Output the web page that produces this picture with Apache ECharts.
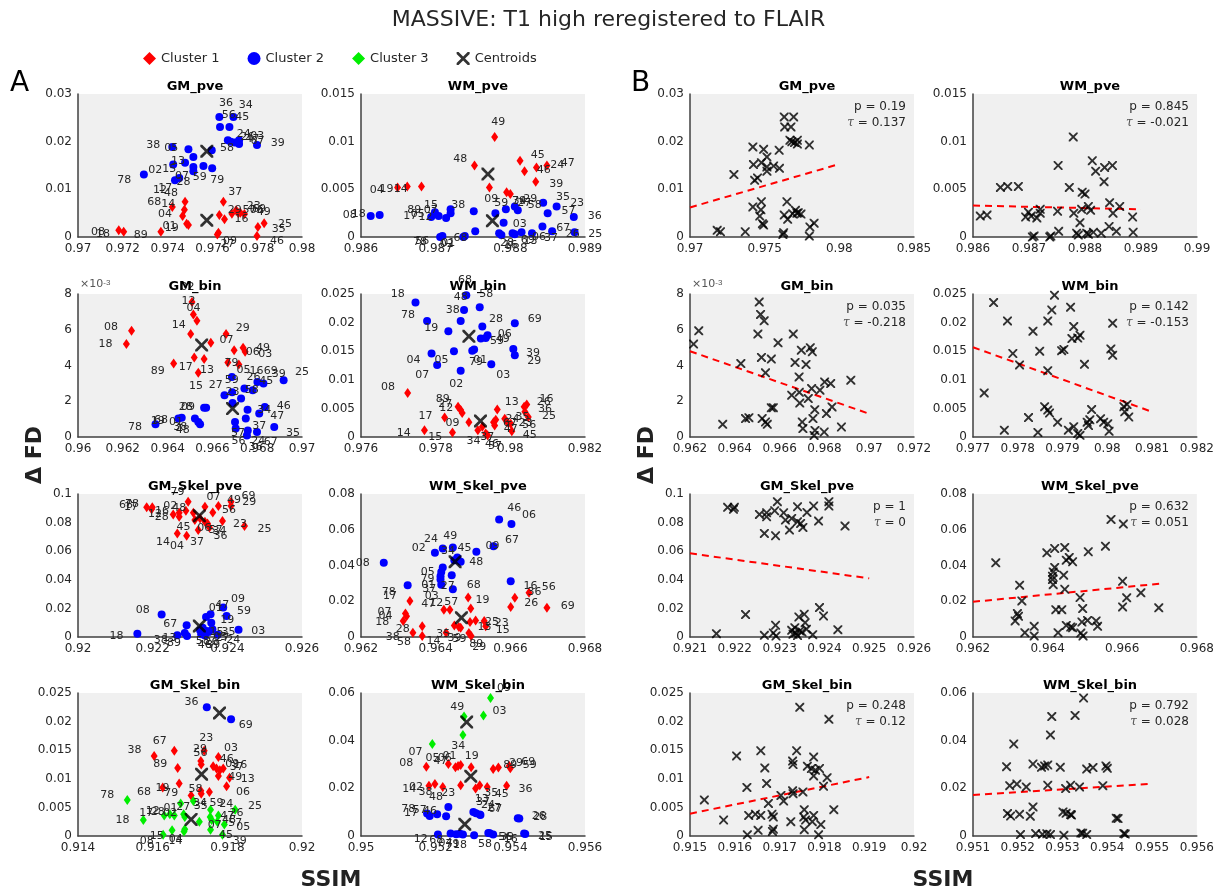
<!DOCTYPE html>
<html><head><meta charset="utf-8">
<script src="https://cdn.jsdelivr.net/npm/echarts/dist/echarts.min.js"></script>
<style>html,body{margin:0;padding:0;background:#fff}#c{width:1217px;height:892px}</style>
</head><body><div id="c"></div>
<script>
// ---------------- DATA: [subject, SSIM, dFD, cluster] ----------------
const GM_pve = [
 ["36",0.97631,0.0252,2],["34",0.97694,0.0252,2],["56",0.97634,0.0231,2],["45",0.97676,0.0231,2],
 ["38",0.97421,0.0189,2],["05",0.97493,0.0184,2],["58",0.97597,0.0182,2],["24",0.97669,0.0203,2],
 ["26",0.97682,0.0200,2],["03",0.97719,0.0203,2],["67",0.97719,0.0195,2],["47",0.97700,0.0198,2],
 ["39",0.97799,0.0193,2],["02",0.97425,0.0152,2],["15",0.97478,0.0156,2],["13",0.97515,0.0168,2],
 ["07",0.97515,0.0147,2],["28",0.97515,0.0138,2],["59",0.97560,0.0149,2],["79",0.97599,0.0144,2],
 ["78",0.97294,0.0131,2],["12",0.97433,0.0119,2],["17",0.97452,0.0124,2],
 ["08",0.97182,0.0014,1],["18",0.97204,0.0011,1],["89",0.97370,0.0011,1],["68",0.97421,0.0063,1],
 ["04",0.97467,0.0044,1],["14",0.97475,0.0057,1],["48",0.97478,0.0074,1],["01",0.97485,0.0028,1],
 ["19",0.97493,0.0025,1],["27",0.97622,0.0005,1],["09",0.97627,0.0009,1],["29",0.97631,0.0046,1],
 ["16",0.97654,0.0037,1],["37",0.97649,0.0074,1],["57",0.97687,0.0049,1],["23",0.97706,0.0056,1],
 ["06",0.97716,0.0050,1],["69",0.97725,0.0051,1],["49",0.97743,0.0048,1],["46",0.97799,0.0002,1],
 ["35",0.97803,0.0021,1],["25",0.97831,0.0029,1]
];
const WM_pve = [
 ["49",0.98779,0.0105,1],["45",0.98813,0.0080,1],["24",0.98835,0.0073,1],["47",0.98849,0.0075,1],
 ["48",0.98752,0.0075,1],["46",0.98819,0.0069,1],["39",0.98834,0.0058,1],["09",0.98772,0.0052,1],
 ["34",0.98795,0.0047,1],["27",0.98800,0.0045,1],["04",0.98649,0.0052,1],["19",0.98662,0.0053,1],
 ["14",0.98681,0.0053,1],
 ["08",0.98613,0.0022,2],["18",0.98625,0.0023,2],["17",0.98694,0.0021,2],["89",0.98699,0.0026,2],
 ["05",0.98704,0.0022,2],["12",0.98714,0.0020,2],["15",0.98720,0.0029,2],["07",0.98720,0.0025,2],
 ["78",0.98706,0.0000,2],["56",0.98709,0.0001,2],["02",0.98737,0.0000,2],["01",0.98739,0.0001,2],
 ["38",0.98751,0.0027,2],["68",0.98753,0.0006,2],["59",0.98780,0.0025,2],["79",0.98794,0.0029,2],
 ["03",0.98791,0.0015,2],["28",0.98785,0.0004,2],["16",0.98788,0.0002,2],["29",0.98806,0.0032,2],
 ["58",0.98810,0.0028,2],["69",0.98803,0.0004,2],["13",0.98806,0.0003,2],["06",0.98815,0.0005,2],
 ["37",0.98829,0.0004,2],["35",0.98844,0.0036,2],["67",0.98843,0.0011,2],["23",0.98862,0.0032,2],
 ["26",0.98856,0.0006,2],["57",0.98850,0.0025,2],["36",0.98885,0.0021,2],["25",0.98886,0.0005,2]
];
const GM_bin = [
 ["02",0.96509,0.00755,1],["12",0.96515,0.00686,1],["04",0.96531,0.00650,1],["14",0.96503,0.00576,1],
 ["08",0.96239,0.00594,1],["18",0.96216,0.00520,1],["07",0.96593,0.00527,1],["29",0.96661,0.00576,1],
 ["06",0.96697,0.00486,1],["49",0.96737,0.00500,1],["03",0.96746,0.00477,1],["17",0.96519,0.00445,1],
 ["13",0.96563,0.00436,1],["89",0.96427,0.00411,1],["16",0.96718,0.00406,1],["15",0.96537,0.00359,1],
 ["05",0.96669,0.00417,1],
 ["79",0.96687,0.00336,2],["26",0.96743,0.00271,2],["45",0.96780,0.00262,2],["69",0.96801,0.00308,2],
 ["39",0.96828,0.00299,2],["25",0.96918,0.00318,2],["27",0.96654,0.00234,2],["59",0.96688,0.00250,2],
 ["58",0.96728,0.00215,2],["34",0.96757,0.00153,2],["46",0.96834,0.00168,2],["28",0.96563,0.00163,2],
 ["09",0.96572,0.00164,2],["19",0.96448,0.00103,2],["68",0.96463,0.00108,2],["01",0.96522,0.00103,2],
 ["38",0.96537,0.00084,2],["48",0.96545,0.00071,2],["78",0.96346,0.00071,2],["57",0.96701,0.00084,2],
 ["56",0.96704,0.00047,2],["37",0.96749,0.00103,2],["47",0.96809,0.00131,2],["35",0.96876,0.00056,2],
 ["24",0.96758,0.00037,2],["36",0.96754,0.00009,2],["67",0.96799,0.00028,2],["23",0.96690,0.00190,2]
];
const WM_bin = [
 ["68",0.97882,0.0248,2],["18",0.97746,0.0235,2],["48",0.97876,0.0222,2],["58",0.97918,0.0227,2],
 ["78",0.97777,0.0203,2],["38",0.97867,0.0203,2],["69",0.98012,0.0199,2],["28",0.97925,0.0193,2],
 ["19",0.97834,0.0185,2],["59",0.97921,0.0172,2],["49",0.97934,0.0173,2],["06",0.97939,0.0178,2],
 ["39",0.98008,0.0154,2],["29",0.98012,0.0143,2],["05",0.97849,0.0150,2],["01",0.97903,0.0153,2],
 ["79",0.97898,0.0151,2],["04",0.97789,0.0146,2],["07",0.97804,0.0126,2],["03",0.97949,0.0127,2],
 ["02",0.97867,0.0116,2],
 ["08",0.97725,0.0077,1],["89",0.97860,0.0053,1],["27",0.97867,0.0047,1],["12",0.97871,0.0042,1],
 ["17",0.97824,0.0034,1],["14",0.97770,0.0012,1],["15",0.97845,0.0008,1],["09",0.97889,0.0026,1],
 ["34",0.97913,0.0012,1],["37",0.97925,0.0018,1],["46",0.97934,0.0006,1],["57",0.97939,0.0003,1],
 ["13",0.97965,0.0048,1],["67",0.97955,0.0026,1],["24",0.97961,0.0030,1],["35",0.97985,0.0032,1],
 ["23",0.97992,0.0026,1],["56",0.98001,0.0023,1],["45",0.98004,0.0010,1],["26",0.98037,0.0053,1],
 ["16",0.98044,0.0057,1],["36",0.98039,0.0044,1],["25",0.98048,0.0035,1],["47",0.97958,0.0020,1]
];
const GM_Skel_pve = [
 ["68",0.92184,0.0907,1],["17",0.92197,0.0893,1],["78",0.92199,0.0907,1],["12",0.92255,0.0857,1],
 ["16",0.92271,0.0869,1],["28",0.92271,0.0841,1],["79",0.92295,0.0946,1],["02",0.92289,0.0883,1],
 ["48",0.92309,0.0869,1],["07",0.92340,0.0911,1],["49",0.92376,0.0916,1],["69",0.92410,0.0946,1],
 ["29",0.92410,0.0916,1],["56",0.92361,0.0871,1],["23",0.92387,0.0811,1],["45",0.92313,0.0818,1],
 ["06",0.92327,0.0829,1],["57",0.92340,0.0806,1],["34",0.92347,0.0794,1],["25",0.92446,0.0776,1],
 ["14",0.92266,0.0724,1],["04",0.92291,0.0708,1],["37",0.92322,0.0748,1],["36",0.92352,0.0766,1],
 ["08",0.92224,0.0157,2],["18",0.92159,0.0023,2],["09",0.92389,0.0206,2],["47",0.92355,0.0159,2],
 ["01",0.92343,0.0140,2],["59",0.92398,0.0147,2],["67",0.92291,0.0082,2],["19",0.92357,0.0100,2],
 ["03",0.92430,0.0051,2],["24",0.92374,0.0016,2],["38",0.92266,0.0012,2],["13",0.92286,0.0028,2],
 ["89",0.92292,0.0007,2],["58",0.92327,0.0047,2],["15",0.92334,0.0065,2],["05",0.92345,0.0042,2],
 ["26",0.92336,0.0028,2],["27",0.92350,0.0035,2],["35",0.92360,0.0055,2],["46",0.92330,0.0020,2],
 ["39",0.92340,0.0010,2]
];
const WM_Skel_pve = [
 ["46",0.96570,0.0658,2],["06",0.96603,0.0632,2],["67",0.96555,0.0508,2],["09",0.96509,0.0477,2],
 ["02",0.96398,0.0471,2],["24",0.96419,0.0495,2],["49",0.96446,0.0501,2],["45",0.96458,0.0445,2],
 ["48",0.96467,0.0421,2],["34",0.96450,0.0430,2],["08",0.96261,0.0415,2],["05",0.96419,0.0389,2],
 ["79",0.96415,0.0364,2],["01",0.96413,0.0340,2],["37",0.96413,0.0321,2],["03",0.96415,0.0293,2],
 ["27",0.96443,0.0346,2],["78",0.96325,0.0290,2],["57",0.96446,0.0267,2],["16",0.96601,0.0312,2],
 ["17",0.96331,0.0202,1],["07",0.96319,0.0131,1],["04",0.96322,0.0116,1],["18",0.96313,0.0090,1],
 ["38",0.96339,0.0024,1],["28",0.96364,0.0060,1],["58",0.96364,0.0006,1],["14",0.96428,0.0024,1],
 ["47",0.96422,0.0153,1],["12",0.96438,0.0153,1],["35",0.96450,0.0065,1],["39",0.96462,0.0056,1],
 ["59",0.96467,0.0052,1],["68",0.96487,0.0221,1],["19",0.96494,0.0159,1],["13",0.96492,0.0084,1],
 ["89",0.96489,0.0022,1],["29",0.96495,0.0006,1],["25",0.96507,0.0093,1],["23",0.96530,0.0090,1],
 ["15",0.96534,0.0060,1],["26",0.96601,0.0168,1],["36",0.96612,0.0219,1],["56",0.96650,0.0247,1],
 ["69",0.96698,0.0163,1]
];
const GM_Skel_bin = [
 ["36",0.91745,0.0225,2],["69",0.91810,0.0204,2],
 ["38",0.91604,0.0140,1],["67",0.91658,0.0149,1],["23",0.91738,0.0149,1],["89",0.91667,0.0119,1],
 ["29",0.91729,0.0131,1],["56",0.91730,0.0125,1],["03",0.91776,0.0138,1],["46",0.91762,0.0122,1],
 ["09",0.91771,0.0118,1],["37",0.91780,0.0115,1],["16",0.91789,0.0118,1],["49",0.91776,0.0105,1],
 ["13",0.91806,0.0102,1],["68",0.91627,0.0085,1],["19",0.91671,0.0092,1],["27",0.91703,0.0071,1],
 ["34",0.91729,0.0079,1],["35",0.91730,0.0074,1],["59",0.91752,0.0077,1],["06",0.91798,0.0087,1],
 ["78",0.91532,0.0063,3],["79",0.91675,0.0057,3],["58",0.91709,0.0061,3],["18",0.91575,0.0028,3],
 ["17",0.91631,0.0036,3],["12",0.91646,0.0038,3],["28",0.91658,0.0036,3],["08",0.91628,0.0002,3],
 ["15",0.91652,0.0010,3],["14",0.91684,0.0008,3],["04",0.91686,0.0012,3],["01",0.91683,0.0038,3],
 ["02",0.91686,0.0033,3],["07",0.91725,0.0025,3],["24",0.91755,0.0046,3],["47",0.91754,0.0033,3],
 ["48",0.91758,0.0028,3],["26",0.91776,0.0036,3],["57",0.91773,0.0025,3],["45",0.91755,0.0011,3],
 ["25",0.91821,0.0046,3],["05",0.91792,0.0020,3],["39",0.91787,0.0002,3]
];
const WM_Skel_bin = [
 ["09",0.95347,0.0579,3],["03",0.95328,0.0506,3],["49",0.95276,0.0501,3],["34",0.95273,0.0424,3],
 ["07",0.95191,0.0386,3],
 ["08",0.95175,0.0291,1],["05",0.95234,0.0302,1],["47",0.95253,0.0288,1],["06",0.95260,0.0294,1],
 ["01",0.95267,0.0298,1],["19",0.95295,0.0288,1],["89",0.95354,0.0281,1],["29",0.95368,0.0287,1],
 ["69",0.95397,0.0294,1],["59",0.95400,0.0284,1],["14",0.95182,0.0211,1],["02",0.95198,0.0218,1],
 ["38",0.95219,0.0206,1],["23",0.95267,0.0213,1],["13",0.95307,0.0199,1],["35",0.95318,0.0213,1],
 ["45",0.95338,0.0206,1],["36",0.95390,0.0211,1],
 ["78",0.95177,0.0094,2],["17",0.95184,0.0084,2],["57",0.95204,0.0091,2],["48",0.95234,0.0122,2],
 ["46",0.95228,0.0083,2],["37",0.95301,0.0101,2],["27",0.95318,0.0090,2],["28",0.95424,0.0073,2],
 ["24",0.95308,0.0095,2],["67",0.95320,0.0088,2],["26",0.95420,0.0075,2],
 ["12",0.95206,0.0006,2],["68",0.95240,0.0010,2],["04",0.95255,0.0007,2],["18",0.95273,0.0006,2],
 ["79",0.95265,0.0009,2],["56",0.95341,0.0013,2],["16",0.95354,0.0006,2],["39",0.95345,0.0012,2],
 ["25",0.95437,0.0010,2],["15",0.95440,0.0008,2],["58",0.95303,0.0003,2]
];
// centroids per cluster (1,2,3): [SSIM, dFD]
const GM_pve_centroids = [[0.97575,0.0035],[0.97575,0.0180]];
const WM_pve_centroids = [[0.98770,0.0066],[0.98776,0.0017]];
const GM_bin_centroids = [[0.96552,0.00514],[0.96690,0.00159]];
const WM_bin_centroids = [[0.97920,0.0028],[0.97889,0.0176]];
const GM_Skel_pve_centroids = [[0.92325,0.0848],[0.92325,0.0077]];
const WM_Skel_pve_centroids = [[0.96469,0.0108],[0.96452,0.0421]];
const GM_Skel_bin_centroids = [[0.91731,0.0108],[0.91779,0.0215],[0.91703,0.0029]];
const WM_Skel_bin_centroids = [[0.95294,0.0251],[0.95278,0.0049],[0.95283,0.0478]];

const plotTitles = ['GM_pve','WM_pve','GM_bin','WM_bin','GM_Skel_pve','WM_Skel_pve','GM_Skel_bin','WM_Skel_bin'];
// axis ticks [min, max, interval]
const xTicksA = [[0.97,0.98,0.002],[0.986,0.989,0.001],[0.96,0.97,0.002],[0.976,0.982,0.002],[0.92,0.926,0.002],[0.962,0.968,0.002],[0.914,0.92,0.002],[0.95,0.956,0.002]];
const xTicksB = [[0.97,0.985,0.005],[0.986,0.99,0.001],[0.962,0.972,0.002],[0.977,0.982,0.001],[0.921,0.926,0.001],[0.962,0.968,0.002],[0.915,0.92,0.001],[0.951,0.956,0.001]];
const yTicks = [[0,0.03,0.01],[0,0.015,0.005],[0,0.008,0.002],[0,0.025,0.005],[0,0.1,0.02],[0,0.08,0.02],[0,0.025,0.005],[0,0.06,0.02]];
const pValues = ['0.19','0.845','0.035','0.142','1','0.632','0.248','0.792'];
const tauValues = ['0.137','-0.021','-0.218','-0.153','0','0.051','0.12','0.028'];
// trend line: start x, end x, value at start, slope
const fitStartX = [0.970,0.986,0.962,0.977,0.921,0.962,0.915,0.951];
const fitEndX   = [0.980,0.989,0.970,0.981,0.925,0.967,0.919,0.955];
const fitStartY = [0.0062,0.0033,0.0048,0.0157,0.0585,0.0197,0.0039,0.0172];
const fitSlope  = [0.91,-0.133,-0.4375,-2.825,-4.375,2.02,1.6,1.175];

// ---------------- LAYOUT ----------------
const FONT = 'DejaVu Sans';
const TXT = '#262626';
const PW = 224, PH = 143;
const colLeft = [78, 361, 690, 973];
const rowTop = [94, 294, 494, 693];
const XPATH = 'path://M0,0L3,0L10,7L17,0L20,0L20,3L13,10L20,17L20,20L17,20L10,13L3,20L0,20L0,17L7,10L0,3Z';
const clusterStyle = {
  1: {name:'Cluster 1', color:'#ff0000', symbol:'diamond', size:[7,10]},
  2: {name:'Cluster 2', color:'#0000ff', symbol:'circle', size:8},
  3: {name:'Cluster 3', color:'#00ee00', symbol:'diamond', size:[7,10]}
};
const allPts = [GM_pve, WM_pve, GM_bin, WM_bin, GM_Skel_pve, WM_Skel_pve, GM_Skel_bin, WM_Skel_bin];
const allCen = [GM_pve_centroids, WM_pve_centroids, GM_bin_centroids, WM_bin_centroids,
                GM_Skel_pve_centroids, WM_Skel_pve_centroids, GM_Skel_bin_centroids, WM_Skel_bin_centroids];

function fmt(v){ return String(parseFloat(v.toFixed(6))); }

const grid=[], xAxis=[], yAxis=[], series=[], titles=[], graphic=[];
titles.push({text:'MASSIVE: T1 high reregistered to FLAIR', left:'center', top:4,
  textStyle:{fontFamily:FONT, fontSize:22, fontWeight:'normal', color:TXT}});

function addAxes(left, top, xt, yt, isBin){
  const gi = grid.length;
  grid.push({left:left, top:top, width:PW, height:PH, show:true, backgroundColor:'#f0f0f0', borderWidth:0, containLabel:false});
  xAxis.push({gridIndex:gi, type:'value', min:xt[0], max:xt[1], interval:xt[2],
    axisLine:{show:true, onZero:false, lineStyle:{color:'#404040', width:1.5}},
    axisTick:{show:false}, splitLine:{show:false},
    axisLabel:{fontFamily:FONT, fontSize:12, color:TXT, margin:6, formatter:fmt}});
  yAxis.push({gridIndex:gi, type:'value', min:yt[0], max:yt[1], interval:yt[2],
    axisLine:{show:true, onZero:false, lineStyle:{color:'#404040', width:1.5}},
    axisTick:{show:false}, splitLine:{show:false},
    axisLabel:{fontFamily:FONT, fontSize:12, color:TXT, margin:6,
      formatter: isBin ? (v=>fmt(v*1000)) : fmt}});
  return gi;
}

// label pushed outward from its cluster centre (in screen space)
function labelOffset(r, cen, xt, yt){
  const dx = (r[1]-cen[0])/(xt[1]-xt[0])*PW;
  const dy = -(r[2]-cen[1])/(yt[1]-yt[0])*PH;
  let len = Math.hypot(dx, dy);
  let ux = 0, uy = -1;
  if (len > 0.5){ ux = dx/len; uy = dy/len; }
  const d = 10 + Math.min(len*0.12, 6);
  return [ux*(d+5), uy*d];
}

for (let p=0;p<8;p++){
  const row = Math.floor(p/2), col = p%2;
  const isBin = plotTitles[p]==='GM_bin';
  const t = rowTop[row];
  // ---- panel A ----
  const la = colLeft[col];
  const gA = addAxes(la, t, xTicksA[p], yTicks[p], isBin);
  titles.push({text:plotTitles[p], left:la+PW/2, top:t-19, textAlign:'center',
    textStyle:{fontFamily:FONT, fontSize:13, fontWeight:'bold', color:'#000'}});
  [1,2,3].forEach(k=>{
    const rows = allPts[p].filter(r=>r[3]===k);
    if (!rows.length) return;
    const cen = allCen[p][k-1];
    const d = rows.map(r=>({value:[r[1], r[2]], name:r[0],
      label:{offset:labelOffset(r, cen, xTicksA[p], yTicks[p])}}));
    const cs = clusterStyle[k];
    series.push({name:cs.name, type:'scatter', xAxisIndex:gA, yAxisIndex:gA, data:d,
      symbol:cs.symbol, symbolSize:cs.size, itemStyle:{color:cs.color, opacity:1}, z:3,
      label:{show:true, position:'inside', formatter:q=>q.name,
        fontFamily:FONT, fontSize:11, color:TXT}});
  });
  series.push({name:'Centroids', type:'scatter', xAxisIndex:gA, yAxisIndex:gA, data:allCen[p],
    symbol:XPATH, symbolSize:13, itemStyle:{color:'#000'}, z:5});
  // ---- panel B ----
  const lb = colLeft[2+col];
  const gB = addAxes(lb, t, xTicksB[p], yTicks[p], isBin);
  titles.push({text:plotTitles[p], left:lb+PW/2, top:t-19, textAlign:'center',
    textStyle:{fontFamily:FONT, fontSize:13, fontWeight:'bold', color:'#000'}});
  series.push({name:'B_'+plotTitles[p], type:'scatter', xAxisIndex:gB, yAxisIndex:gB,
    data:allPts[p].map(r=>[r[1], r[2], r[0]]), symbol:XPATH, symbolSize:9, itemStyle:{color:'#000'}, z:4});
  const fx0 = fitStartX[p], fx1 = fitEndX[p];
  series.push({name:'fit_'+plotTitles[p], type:'line', xAxisIndex:gB, yAxisIndex:gB, silent:true,
    data:[[fx0, fitStartY[p]], [fx1, fitStartY[p] + fitSlope[p]*(fx1-fx0)]],
    symbol:'none', lineStyle:{color:'#ff0000', width:2, type:[7,5]}, z:3});
  graphic.push({type:'text', x:lb+PW-8, y:t+13, style:{text:'p = '+pValues[p], textAlign:'right', textVerticalAlign:'middle',
    font:'12px "DejaVu Sans"', fill:TXT}});
  graphic.push({type:'text', x:lb+PW-8, y:t+29, style:{
    text:'{i|τ} = '+tauValues[p], textAlign:'right', textVerticalAlign:'middle', font:'12px "DejaVu Sans"', fill:TXT,
    rich:{i:{fontFamily:'DejaVu Serif', fontStyle:'italic', fontSize:12, fill:'#555'}}}});
  if (isBin){
    [la, lb].forEach(l=>{
      graphic.push({type:'text', x:l+2, y:t-10, style:{text:'×10{s|-3}', textVerticalAlign:'middle', font:'11px "DejaVu Sans"', fill:'#555',
        rich:{s:{fontSize:8, verticalAlign:'top', fill:'#555'}}}});
    });
  }
}
// panel letters & axis names
graphic.push({type:'text', left:10, top:70, style:{text:'A', font:'28px "DejaVu Sans"', fill:'#000'}});
graphic.push({type:'text', left:631, top:70, style:{text:'B', font:'28px "DejaVu Sans"', fill:'#000'}});
[35, 647].forEach(x=>{
  graphic.push({type:'text', x:x, y:455, rotation:Math.PI/2,
    style:{text:'Δ FD', font:'bold 22px "DejaVu Sans"', fill:'#222', textAlign:'center', textVerticalAlign:'middle'}});
});
[331, 943].forEach(x=>{
  graphic.push({type:'text', x:x, y:880, style:{text:'SSIM', font:'bold 22px "DejaVu Sans"', fill:'#222', textAlign:'center', textVerticalAlign:'middle'}});
});

const chart = echarts.init(document.getElementById('c'), null, {renderer:'canvas'});
chart.setOption({
  animation:false,
  backgroundColor:'#ffffff',
  title:titles,
  legend:{show:true, left:138, top:47, itemGap:28, itemWidth:13, itemHeight:13, selectedMode:false,
    textStyle:{fontFamily:FONT, fontSize:13, color:TXT},
    data:[{name:'Cluster 1', icon:'diamond', itemStyle:{color:'#ff0000'}},
          {name:'Cluster 2', icon:'circle', itemStyle:{color:'#0000ff'}},
          {name:'Cluster 3', icon:'diamond', itemStyle:{color:'#00ee00'}},
          {name:'Centroids', icon:XPATH, itemStyle:{color:'#000'}}]},
  grid:grid, xAxis:xAxis, yAxis:yAxis, series:series, graphic:graphic
});
</script></body></html>
